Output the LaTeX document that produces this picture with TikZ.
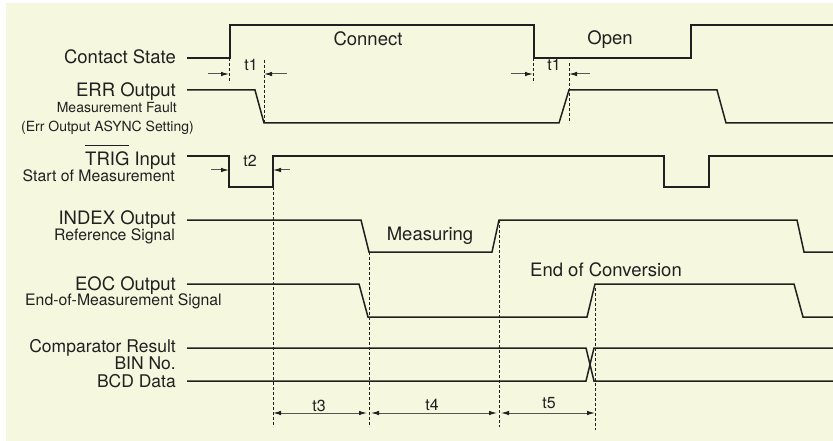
\documentclass[tikz,border=0pt]{standalone}
\usepackage{fontspec}
\setmainfont{TeX Gyre Heros}
\usetikzlibrary{arrows.meta}
\definecolor{cream}{RGB}{245,247,222}
\definecolor{ink}{RGB}{35,31,32}
\definecolor{dimline}{RGB}{85,85,85}
\newcommand\barred[1]{\vbox{\hrule height 1.2pt\kern 5.5pt\hbox{#1}}}
\begin{document}
\begin{tikzpicture}[x=1pt,y=-1pt,
  sig/.style={line width=1.5pt,draw=ink,line join=miter},
  guide/.style={line width=0.9pt,draw=ink,dash pattern=on 3pt off 2pt},
  span/.style={line width=1pt,draw=dimline,-{Latex[length=8pt,width=4.5pt,ink]}},
  twoway/.style={line width=1pt,draw=dimline,{Latex[length=8pt,width=4.5pt,ink]}-{Latex[length=8pt,width=4.5pt,ink]}},
  lbl/.style={font=\fontsize{18.5}{20}\selectfont,text=ink,inner sep=0pt},
  sublbl/.style={font=\fontsize{15.8}{17}\selectfont,text=ink,inner sep=0pt},
  errlbl/.style={font=\fontsize{14}{16}\selectfont,text=ink,inner sep=0pt},
  tlbl/.style={font=\fontsize{16}{17}\selectfont,text=ink,inner sep=0pt,anchor=base}]
  \useasboundingbox (0,0) rectangle (833,441);
  \fill[cream] (6,3) rectangle (833,441);
  % Labels
  \node[lbl,anchor=base east] (contact) at (176,64) {Contact State};
  \node[lbl,anchor=base east] (err) at (176,97) {ERR Output};
  \node[errlbl,anchor=base east] (errfault) at (177,113) {Measurement Fault};
  \node[errlbl,anchor=base west] (errasync) at (21,132) {(Err Output ASYNC Setting)};
  \node[lbl,anchor=base east] (trig) at (176,165.5) {\barred{TRIG} Input};
  \node[sublbl,anchor=base east] (trigstart) at (175,181.5) {Start of Measurement};
  \node[lbl,anchor=base east] (index) at (176,224) {INDEX Output};
  \node[sublbl,anchor=base east] (indexref) at (175,240) {Reference Signal};
  \node[lbl,anchor=base east] (eoc) at (176,290) {EOC Output};
  \node[sublbl,anchor=base west] (eocend) at (25,305.5) {End-of-Measurement Signal};
  \node[lbl,font=\fontsize{17.5}{19}\selectfont,anchor=base east] (comp) at (176,352) {Comparator Result};
  \node[lbl,font=\fontsize{17.5}{19}\selectfont,anchor=base east] (bin) at (176,369.5) {BIN No.};
  \node[lbl,font=\fontsize{17.5}{19}\selectfont,anchor=base east] (bcd) at (176,387) {BCD Data};
  \node[lbl,anchor=base] (connect) at (368,46) {Connect};
  \node[lbl,anchor=base] (open) at (610,45) {Open};
  \node[lbl,anchor=base] (measuring) at (430,240) {Measuring};
  \node[lbl,anchor=base] (endconv) at (606,276) {End of Conversion};
  % Waveforms
  \draw[sig] (187,58) -- (230,58) -- (230,25) -- (534,25) -- (534,58) -- (691,58) -- (691,25) -- (833,25);
  \draw[sig] (187,90) -- (255,90) -- (264,123) -- (559,123) -- (569,90) -- (717,90) -- (726,123) -- (833,123);
  \draw[sig] (187,156) -- (229,156) -- (229,187) -- (273,187) -- (273,156) -- (664,156) -- (664,187) -- (709,187) -- (709,156) -- (833,156);
  \draw[sig] (187,220) -- (361,220) -- (369,252) -- (492,252) -- (499,220) -- (797,220) -- (804,252) -- (833,252);
  \draw[sig] (187,284) -- (359,284) -- (368,317) -- (587,317) -- (595,284) -- (794,284) -- (803,317) -- (833,317);
  \draw[sig] (187,348) -- (586,348) -- (594,381) -- (833,381);
  \draw[sig] (187,381) -- (586,381) -- (594,348) -- (833,348);
  % Guides
  \coordinate (c1) at (229,58);  \coordinate (c1b) at (229,83);
  \coordinate (e1) at (264,60);  \coordinate (e1b) at (264,123);
  \coordinate (c2) at (533,58);  \coordinate (c2b) at (533,83);
  \coordinate (e2) at (569,63);  \coordinate (e2b) at (569,123);
  \coordinate (g3) at (273,187); \coordinate (g3b) at (273,427);
  \coordinate (g4) at (369,252); \coordinate (g4b) at (369,427);
  \coordinate (g5) at (499,220); \coordinate (g5b) at (499,427);
  \coordinate (g6) at (595,288); \coordinate (g6b) at (595,430);
  \foreach \a/\b in {c1/c1b,e1/e1b,c2/c2b,e2/e2b,g3/g3b,g4/g4b,g5/g5b,g6/g6b}
    \draw[guide] (\a) -- (\b);
  % t1, t2
  \coordinate (p1) at (208,74); \coordinate (q1) at (229,74);
  \coordinate (p2) at (287,74); \coordinate (q2) at (264,74);
  \coordinate (p3) at (511,74); \coordinate (q3) at (533,74);
  \coordinate (p4) at (590,74); \coordinate (q4) at (569,74);
  \coordinate (p5) at (211,170); \coordinate (q5) at (229,170);
  \coordinate (p6) at (290,170); \coordinate (q6) at (273,170);
  \foreach \a/\b in {p1/q1,p2/q2,p3/q3,p4/q4,p5/q5,p6/q6}
    \draw[span] (\a) -- (\b);
  \node[tlbl] (t1a) at (251,71) {t1};
  \node[tlbl] (t1b) at (554,71) {t1};
  \node[tlbl] (t2) at (250,167) {t2};
  % t3, t4, t5
  \coordinate (s3) at (273,413); \coordinate (u3) at (367,413);
  \coordinate (s4) at (371,413); \coordinate (u4) at (497,413);
  \coordinate (s5) at (501,413); \coordinate (u5) at (595,413);
  \foreach \a/\b in {s3/u3,s4/u4,s5/u5}
    \draw[twoway] (\a) -- (\b);
  \node[tlbl] (t3) at (319,411) {t3};
  \node[tlbl] (t4) at (432,410) {t4};
  \node[tlbl] (t5) at (549,408) {t5};
\end{tikzpicture}
\end{document}
